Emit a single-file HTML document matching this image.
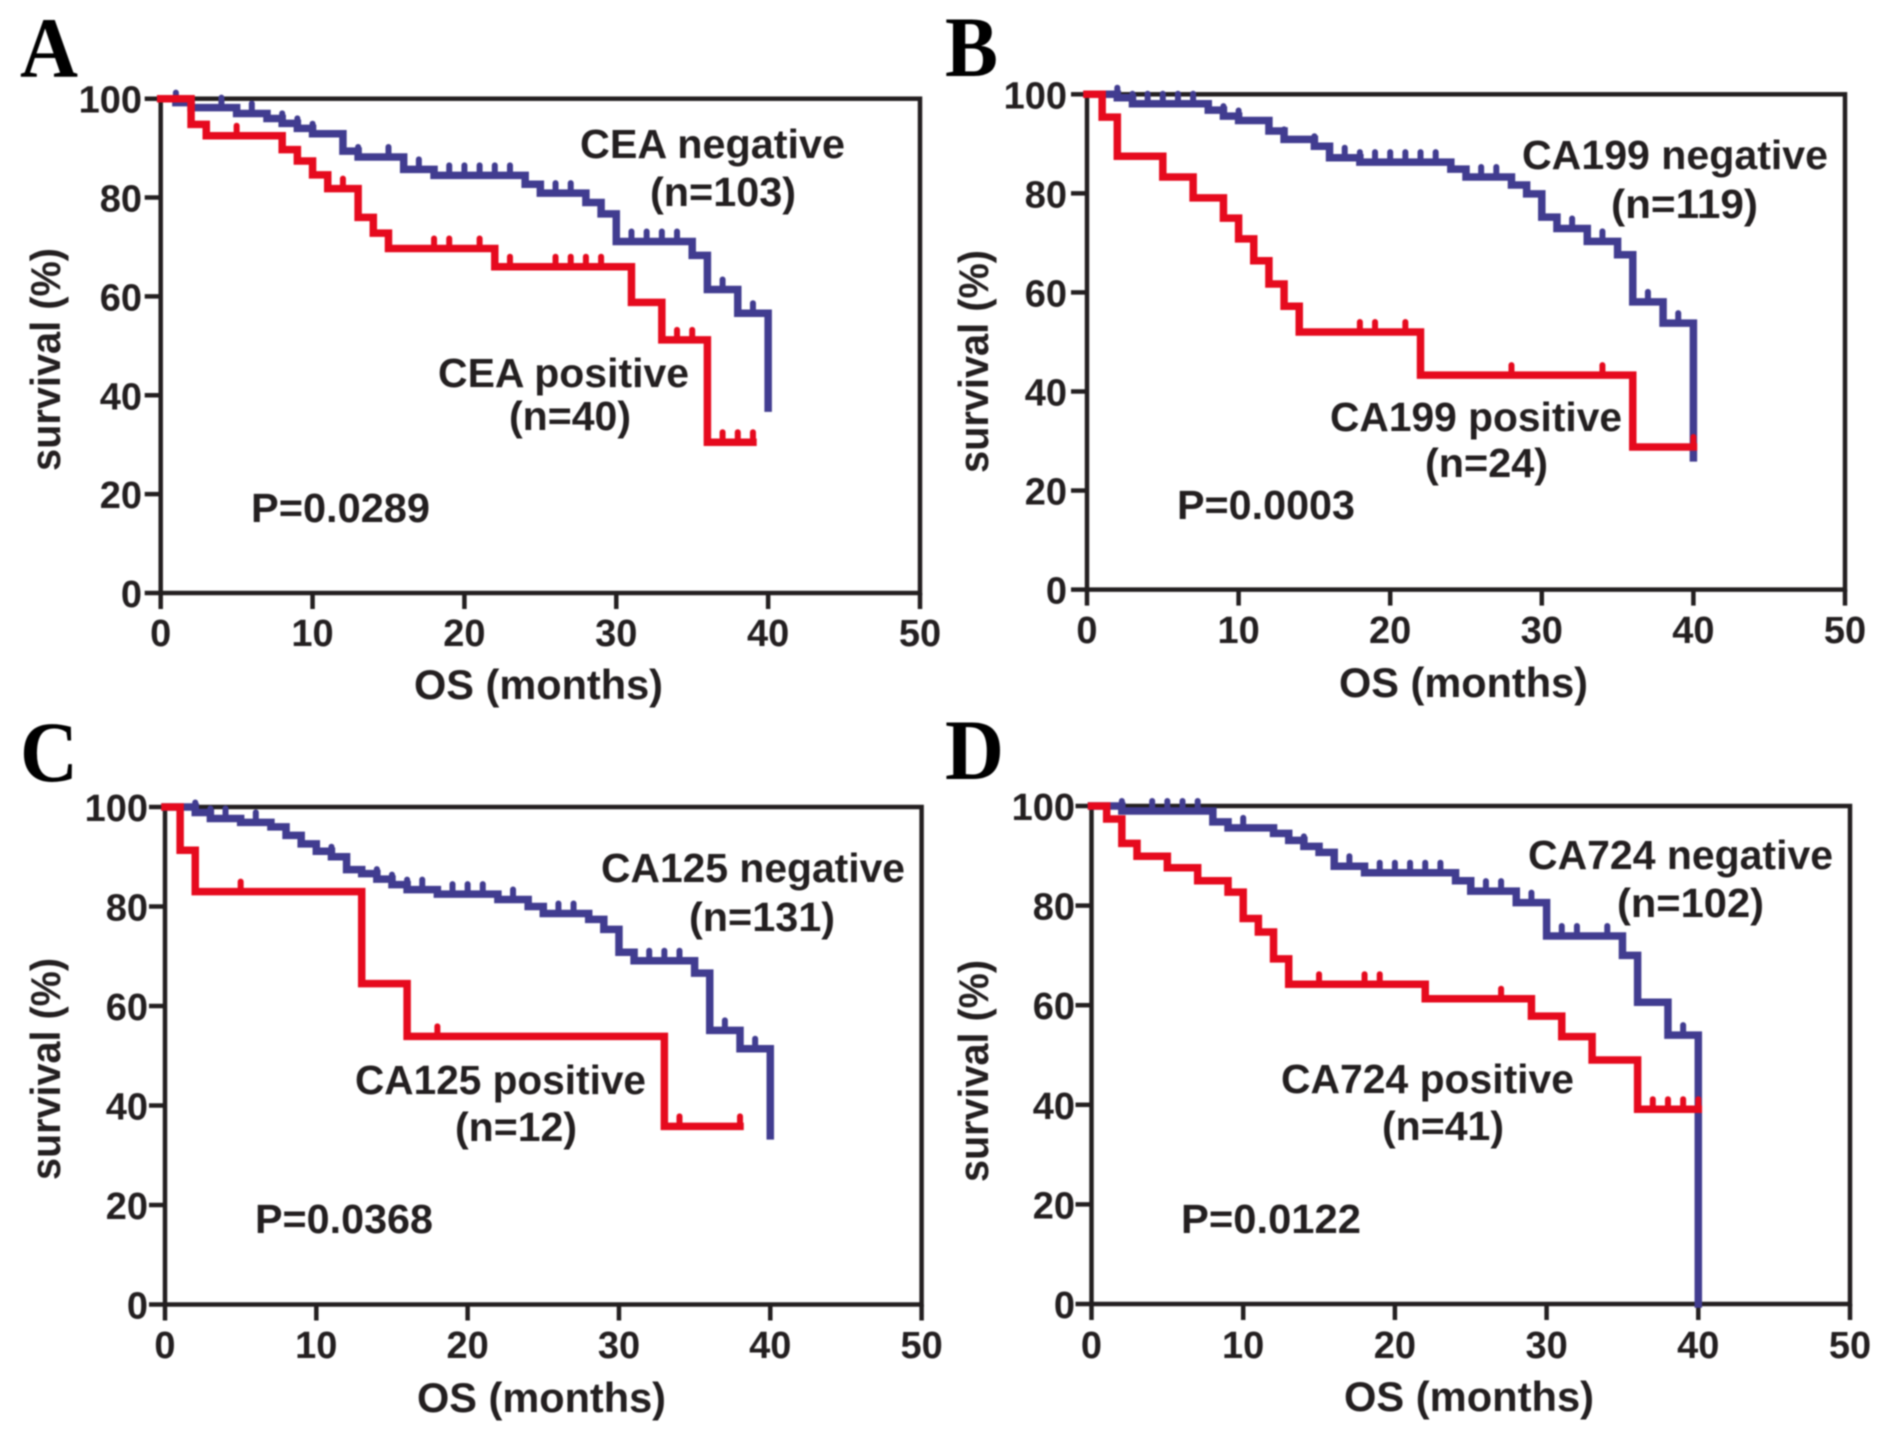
<!DOCTYPE html>
<html lang="en">
<head>
<meta charset="utf-8">
<title>Overall survival curves by tumour marker status</title>
<style>
html,body{margin:0;padding:0;background:#fff;width:1890px;height:1441px;overflow:hidden}
svg{display:block;filter:blur(0.8px)}
text{font-family:"Liberation Sans",sans-serif;font-weight:bold;fill:#231f20}
.panel-letter{font-family:"Liberation Serif",serif;font-size:86px;fill:#000}
.note{font-size:41px}
.axis-title{font-size:42px}
.tick-label{font-size:38px}
</style>
</head>
<body>
<svg id="figure" xmlns="http://www.w3.org/2000/svg" width="1890" height="1441" viewBox="0 0 1890 1441">
<rect x="0" y="0" width="1890" height="1441" fill="#fff"/>

<g id="panel-a">
<g class="plot"></g>
<text class="panel-letter" x="20" y="77" textLength="58" lengthAdjust="spacingAndGlyphs">A</text>
<text class="note" x="580" y="158" textLength="265" lengthAdjust="spacingAndGlyphs">CEA negative</text>
<text class="note" x="650" y="206" textLength="146" lengthAdjust="spacingAndGlyphs">(n=103)</text>
<text class="note" x="438" y="387" textLength="251" lengthAdjust="spacingAndGlyphs">CEA positive</text>
<text class="note" x="509" y="430" textLength="122" lengthAdjust="spacingAndGlyphs">(n=40)</text>
<text class="note" x="251" y="522" textLength="179" lengthAdjust="spacingAndGlyphs">P=0.0289</text>
<text class="axis-title" x="414" y="699" textLength="249" lengthAdjust="spacingAndGlyphs">OS (months)</text>
<text class="axis-title" x="60" y="471" transform="rotate(-90 60 471)" textLength="223" lengthAdjust="spacingAndGlyphs">survival (%)</text>
</g>

<g id="panel-b">
<g class="plot"></g>
<text class="panel-letter" x="945" y="76" textLength="53" lengthAdjust="spacingAndGlyphs">B</text>
<text class="note" x="1522" y="169" textLength="306" lengthAdjust="spacingAndGlyphs">CA199 negative</text>
<text class="note" x="1611" y="218" textLength="147" lengthAdjust="spacingAndGlyphs">(n=119)</text>
<text class="note" x="1330" y="431" textLength="292" lengthAdjust="spacingAndGlyphs">CA199 positive</text>
<text class="note" x="1425" y="477" textLength="123" lengthAdjust="spacingAndGlyphs">(n=24)</text>
<text class="note" x="1177" y="519" textLength="178" lengthAdjust="spacingAndGlyphs">P=0.0003</text>
<text class="axis-title" x="1339" y="697" textLength="249" lengthAdjust="spacingAndGlyphs">OS (months)</text>
<text class="axis-title" x="988" y="473" transform="rotate(-90 988 473)" textLength="223" lengthAdjust="spacingAndGlyphs">survival (%)</text>
</g>

<g id="panel-c">
<g class="plot"></g>
<text class="panel-letter" x="20" y="781" textLength="58" lengthAdjust="spacingAndGlyphs">C</text>
<text class="note" x="601" y="882" textLength="304" lengthAdjust="spacingAndGlyphs">CA125 negative</text>
<text class="note" x="689" y="931" textLength="146" lengthAdjust="spacingAndGlyphs">(n=131)</text>
<text class="note" x="355" y="1094" textLength="291" lengthAdjust="spacingAndGlyphs">CA125 positive</text>
<text class="note" x="455" y="1141" textLength="122" lengthAdjust="spacingAndGlyphs">(n=12)</text>
<text class="note" x="255" y="1233" textLength="178" lengthAdjust="spacingAndGlyphs">P=0.0368</text>
<text class="axis-title" x="417" y="1412" textLength="249" lengthAdjust="spacingAndGlyphs">OS (months)</text>
<text class="axis-title" x="60" y="1180" transform="rotate(-90 60 1180)" textLength="222" lengthAdjust="spacingAndGlyphs">survival (%)</text>
</g>

<g id="panel-d">
<g class="plot"></g>
<text class="panel-letter" x="945" y="779" textLength="59" lengthAdjust="spacingAndGlyphs">D</text>
<text class="note" x="1528" y="869" textLength="305" lengthAdjust="spacingAndGlyphs">CA724 negative</text>
<text class="note" x="1617" y="917" textLength="147" lengthAdjust="spacingAndGlyphs">(n=102)</text>
<text class="note" x="1281" y="1093" textLength="293" lengthAdjust="spacingAndGlyphs">CA724 positive</text>
<text class="note" x="1382" y="1140" textLength="122" lengthAdjust="spacingAndGlyphs">(n=41)</text>
<text class="note" x="1181" y="1233" textLength="180" lengthAdjust="spacingAndGlyphs">P=0.0122</text>
<text class="axis-title" x="1344" y="1411" textLength="250" lengthAdjust="spacingAndGlyphs">OS (months)</text>
<text class="axis-title" x="988" y="1182" transform="rotate(-90 988 1182)" textLength="222" lengthAdjust="spacingAndGlyphs">survival (%)</text>
</g>
</svg>

<script>
const xTickLabels = [0, 10, 20, 30, 40, 50];
const yTickLabels = [0, 20, 40, 60, 80, 100];

const ceaNegMonths = [0, 1, 2, 5, 7, 8, 9, 10, 12, 13, 16, 18, 24, 25, 28, 29, 30, 35, 36, 38, 40];
const ceaNegSurvival = [100, 99.2, 98.2, 97, 96, 95, 94, 92.9, 89.4, 88.2, 85.7, 84.5, 82.7, 80.9, 79, 76.7, 71.1, 68.3, 61.4, 56.6, 37.4];
const ceaNegCensored = [1, 4, 6, 8, 9, 10, 13, 15, 17, 19, 20, 21, 22, 23, 26, 27, 31, 32, 33, 34, 37, 39];
const ceaPosMonths = [0, 2, 3, 8, 9, 10, 11, 13, 14, 15, 22, 31, 33, 36, 39];
const ceaPosSurvival = [100, 94.8, 92.5, 89.7, 87.4, 84.6, 81.8, 76, 72.8, 69.7, 66, 58.8, 51.2, 30.5, 30.5];
const ceaPosCensored = [5, 12, 18, 19, 21, 23, 26, 27, 28, 29, 34, 35, 37, 38, 39];

const ca199NegMonths = [0, 2, 3, 8, 9, 10, 12, 13, 15, 16, 18, 24, 25, 28, 29, 30, 31, 33, 35, 36, 38, 40];
const ca199NegSurvival = [100, 99.3, 98.1, 96.8, 95.6, 94.7, 92.6, 90.9, 89.5, 87.2, 86.3, 84.9, 83.3, 81.7, 79.9, 75.2, 72.9, 70.3, 67.6, 58.1, 53.8, 26.6];
const ca199NegCensored = [2, 3, 4, 5, 6, 7, 9, 10, 13, 15, 17, 18, 19, 20, 21, 22, 23, 26, 27, 32, 34, 37, 39];
const ca199PosMonths = [0, 1, 2, 5, 7, 9, 10, 11, 12, 13, 14, 22, 36, 40];
const ca199PosSurvival = [100, 95.4, 87.5, 83.3, 79.1, 75, 70.8, 66.4, 61.7, 57.2, 52, 43.3, 28.8, 28.8];
const ca199PosCensored = [18, 19, 21, 28, 34, 40];

const ca125NegMonths = [0, 2, 3, 5, 7, 8, 9, 10, 11, 12, 13, 14, 15, 16, 18, 22, 24, 25, 28, 29, 30, 31, 35, 36, 38, 40];
const ca125NegSurvival = [100, 98.9, 97.7, 96.9, 96, 94.3, 92.6, 91.1, 90, 87.4, 86.6, 85.5, 84.4, 83.4, 82.5, 81.4, 80, 78.6, 77.4, 75.4, 70.8, 69.1, 66.6, 55.1, 51.4, 33.9];
const ca125NegCensored = [2, 3, 4, 6, 11, 14, 15, 16, 17, 19, 20, 21, 23, 26, 27, 32, 33, 34, 37, 39];
const ca125PosMonths = [0, 1, 2, 13, 16, 33, 38];
const ca125PosSurvival = [100, 91.3, 83, 64.5, 53.9, 35.8, 35.8];
const ca125PosCensored = [5, 18, 34, 38];

const ca724NegMonths = [0, 2, 8, 9, 12, 13, 14, 15, 16, 18, 24, 25, 28, 30, 35, 36, 38, 40];
const ca724NegSurvival = [100, 99, 96.8, 95.6, 94.5, 93.1, 91.9, 90.7, 87.9, 86.6, 85, 82.9, 80.6, 73.9, 70, 60.6, 54, 0];
const ca724NegCensored = [2, 4, 5, 6, 7, 10, 14, 17, 19, 20, 21, 22, 23, 26, 27, 29, 31, 32, 34, 39];
const ca724PosMonths = [0, 1, 2, 3, 5, 7, 9, 10, 11, 12, 13, 22, 29, 31, 33, 36, 40];
const ca724PosSurvival = [100, 97.4, 92.5, 89.9, 87.6, 85, 82.7, 77.4, 74.7, 69.3, 64.2, 61.3, 57.8, 53.7, 49, 39.1, 39.1];
const ca724PosCensored = [15, 18, 19, 27, 37, 38, 39, 40];

const SVG_NS = 'http://www.w3.org/2000/svg';
const AXIS_COLOR = '#231f20';
const NEG_COLOR = '#413c90';
const POS_COLOR = '#e60a1e';

function makeAxisFunctions(frame) {
  return {
    x: function (month) { return frame.left + month * (frame.right - frame.left) / 50; },
    y: function (pct) { return frame.bottom - pct * (frame.bottom - frame.top) / 100; }
  };
}

function survivalAt(months, survival, month) {
  let value = survival[0];
  for (let i = 0; i < months.length; i++) {
    if (months[i] <= month) value = survival[i];
  }
  return value;
}

function drawAxes(plot, frame, scale, yLabelRight, xLabelBaseline) {
  const box = document.createElementNS(SVG_NS, 'rect');
  
  
  box.setAttribute('x', frame.left);
  box.setAttribute('y', frame.top);
  box.setAttribute('width', frame.right - frame.left);
  box.setAttribute('height', frame.bottom - frame.top);
  box.setAttribute('fill', 'none');
  box.setAttribute('stroke', AXIS_COLOR);
  box.setAttribute('stroke-width', '4.5');
  plot.appendChild(box);

  xTickLabels.forEach(function (value) {
    const px = scale.x(value);
    const tick = document.createElementNS(SVG_NS, 'line');
    
    
    tick.setAttribute('x1', px);
    tick.setAttribute('x2', px);
    tick.setAttribute('y1', frame.bottom);
    tick.setAttribute('y2', frame.bottom + 16);
    tick.setAttribute('stroke', AXIS_COLOR);
    tick.setAttribute('stroke-width', '4.5');
    plot.appendChild(tick);

    const label = document.createElementNS(SVG_NS, 'text');
    
    
    label.setAttribute('class', 'tick-label');
    label.setAttribute('x', px);
    label.setAttribute('y', xLabelBaseline);
    label.setAttribute('text-anchor', 'middle');
    label.textContent = value;
    plot.appendChild(label);
  });

  yTickLabels.forEach(function (value) {
    const py = scale.y(value);
    const tick = document.createElementNS(SVG_NS, 'line');
    
    
    tick.setAttribute('x1', frame.left - 16);
    tick.setAttribute('x2', frame.left);
    tick.setAttribute('y1', py);
    tick.setAttribute('y2', py);
    tick.setAttribute('stroke', AXIS_COLOR);
    tick.setAttribute('stroke-width', '4.5');
    plot.appendChild(tick);

    const label = document.createElementNS(SVG_NS, 'text');
    
    
    label.setAttribute('class', 'tick-label');
    label.setAttribute('x', yLabelRight);
    label.setAttribute('y', py + 14);
    label.setAttribute('text-anchor', 'end');
    label.textContent = value;
    plot.appendChild(label);
  });
}

function drawCurve(plot, scale, months, survival, censored, color) {
  let d = 'M' + scale.x(months[0]) + ' ' + scale.y(survival[0]);
  for (let i = 1; i < months.length; i++) {
    d += ' H' + scale.x(months[i]) + ' V' + scale.y(survival[i]);
  }
  const curve = document.createElementNS(SVG_NS, 'path');
  
  
  curve.setAttribute('d', d);
  curve.setAttribute('fill', 'none');
  curve.setAttribute('stroke', color);
  curve.setAttribute('stroke-width', '7.5');
  curve.setAttribute('stroke-linejoin', 'miter');
  curve.setAttribute('stroke-linecap', 'square');
  plot.appendChild(curve);

  censored.forEach(function (month) {
    const py = scale.y(survivalAt(months, survival, month));
    const mark = document.createElementNS(SVG_NS, 'line');
    
    
    mark.setAttribute('x1', scale.x(month));
    mark.setAttribute('x2', scale.x(month));
    mark.setAttribute('y1', py);
    mark.setAttribute('y2', py - 10);
    mark.setAttribute('stroke', color);
    mark.setAttribute('stroke-width', '6');
    mark.setAttribute('stroke-linecap', 'round');
    plot.appendChild(mark);
  });
}

function drawPanel(id, frame, yLabelRight, xLabelBaseline, negMonths, negSurvival, negCensored, posMonths, posSurvival, posCensored) {
  const plot = document.querySelector('#' + id + ' .plot');
  const scale = makeAxisFunctions(frame);
  drawAxes(plot, frame, scale, yLabelRight, xLabelBaseline);
  drawCurve(plot, scale, negMonths, negSurvival, negCensored, NEG_COLOR);
  drawCurve(plot, scale, posMonths, posSurvival, posCensored, POS_COLOR);
}

drawPanel('panel-a', {left: 160.7, right: 920, top: 98.7, bottom: 593}, 142, 646,
  ceaNegMonths, ceaNegSurvival, ceaNegCensored, ceaPosMonths, ceaPosSurvival, ceaPosCensored);
drawPanel('panel-b', {left: 1087, right: 1845, top: 94.3, bottom: 589.6}, 1067, 643,
  ca199NegMonths, ca199NegSurvival, ca199NegCensored, ca199PosMonths, ca199PosSurvival, ca199PosCensored);
drawPanel('panel-c', {left: 165, right: 921.6, top: 807, bottom: 1304.5}, 148, 1358,
  ca125NegMonths, ca125NegSurvival, ca125NegCensored, ca125PosMonths, ca125PosSurvival, ca125PosCensored);
drawPanel('panel-d', {left: 1091.5, right: 1850, top: 806, bottom: 1304}, 1075, 1358,
  ca724NegMonths, ca724NegSurvival, ca724NegCensored, ca724PosMonths, ca724PosSurvival, ca724PosCensored);
</script>
</body>
</html>
